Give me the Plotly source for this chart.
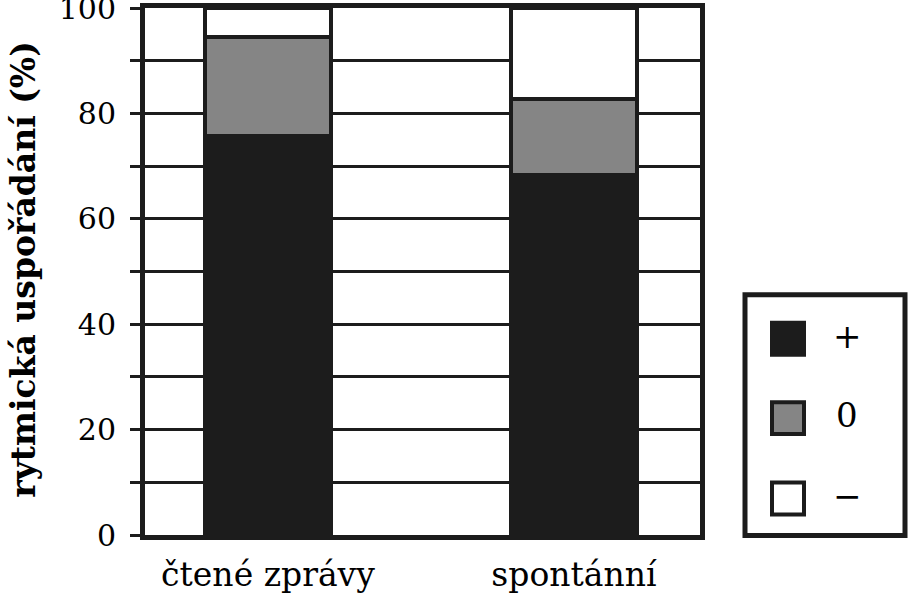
import plotly.graph_objects as go

categories = ["čtené zprávy", "spontánní"]
plus_vals = [75.7, 68.3]
zero_vals = [18.8, 14.5]
minus_vals = [5.5, 17.2]
series_names = ["+", "0", "−"]
series_colors = ["#1c1c1c", "#858585", "#ffffff"]
y_tickvals = [0, 10, 20, 30, 40, 50, 60, 70, 80, 90, 100]
y_ticktext = ["0", "", "20", "", "40", "", "60", "", "80", "", "100"]
y_title = "rytmická uspořádání (%)"

FONT = "DejaVu Serif"
INK = "#1c1c1c"

fig = go.Figure()
x_pos = list(range(len(categories)))
for vals, name, col in zip([plus_vals, zero_vals, minus_vals], series_names, series_colors):
    fig.add_trace(go.Bar(
        x=x_pos, y=vals, name=name, width=0.41,
        marker=dict(color=col, line=dict(color=INK, width=4)),
        showlegend=False,
    ))

# plot area geometry in pixels (for the hand-made legend box)
L, R, T, B = 145, 700, 8, 535.5
PW, PH = R - L, B - T
def px(x):
    return (x - L) / PW
def py(y):
    return (B - y) / PH

shapes = []
annotations = []
# legend frame
shapes.append(dict(type="rect", xref="paper", yref="paper",
                   x0=px(745), x1=px(905), y0=py(536), y1=py(295),
                   line=dict(color=INK, width=5), fillcolor="white", layer="above"))
for i, (name, col) in enumerate(zip(series_names, series_colors)):
    cy = [339, 418.5, 499][i]
    shapes.append(dict(type="rect", xref="paper", yref="paper",
                       x0=px(772), x1=px(804), y0=py(cy + 16), y1=py(cy - 16),
                       line=dict(color=INK, width=4), fillcolor=col, layer="above"))
    annotations.append(dict(text=name, xref="paper", yref="paper",
                            x=px(847), y=py(cy - 3), showarrow=False,
                            xanchor="center", yanchor="middle",
                            font=dict(family=FONT, size=34, color="black")))

annotations.append(dict(text="<b>" + y_title + "</b>", xref="paper", yref="paper",
                        x=px(24), y=py(270), textangle=-90, showarrow=False,
                        xanchor="center", yanchor="middle",
                        font=dict(family=FONT, size=33, color="black")))

fig.update_layout(
    barmode="stack",
    width=909, height=600,
    margin=dict(l=L, r=909 - R, t=T, b=600 - B, autoexpand=False),
    paper_bgcolor="white", plot_bgcolor="white",
    font=dict(family=FONT),
    shapes=shapes, annotations=annotations,
    bargap=0,
    xaxis=dict(
        range=[-0.402, 1.412], tickmode="array", tickvals=x_pos, ticktext=categories,
        showgrid=False, zeroline=False, ticks="", automargin=False,
        showline=True, linecolor=INK, linewidth=5, mirror=True,
        tickfont=dict(family=FONT, size=33, color="black"),
        ticklabelstandoff=6,
    ),
    yaxis=dict(
        range=[0, 100], tickmode="array", tickvals=y_tickvals, ticktext=y_ticktext,
        showgrid=True, gridcolor=INK, gridwidth=3, zeroline=False, automargin=False,
        ticks="outside", ticklen=10, tickwidth=3, tickcolor=INK,
        showline=True, linecolor=INK, linewidth=5, mirror=True,
        tickfont=dict(family=FONT, size=30, color="black"),
        ticklabelstandoff=8, ticklabeloverflow="allow",
    ),
)

fig.write_html("out.html")
